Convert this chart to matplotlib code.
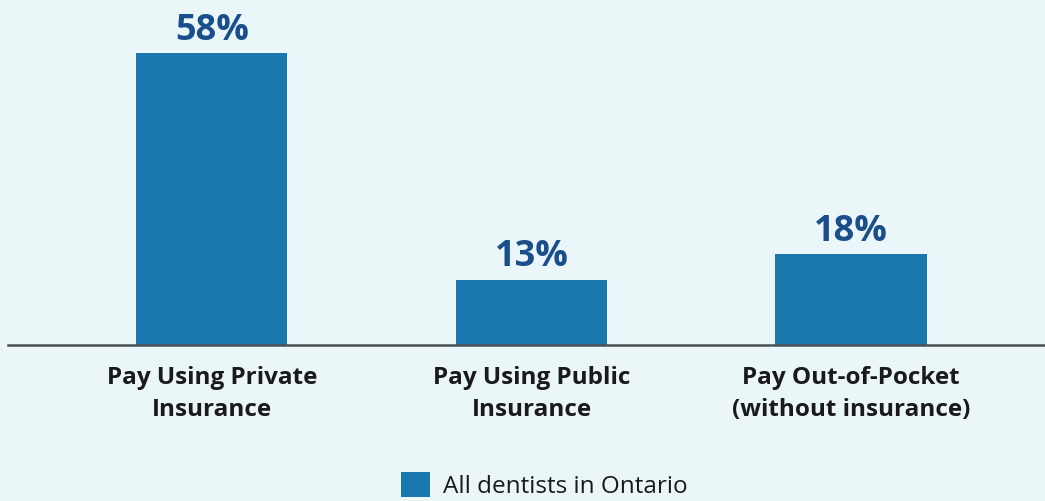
import matplotlib
matplotlib.use("Agg")
import matplotlib.pyplot as plt
from matplotlib.patches import Patch

categories = ["Pay Using Private\nInsurance", "Pay Using Public\nInsurance", "Pay Out-of-Pocket\n(without insurance)"]
values = [58, 13, 18]
value_labels = ["58%", "13%", "18%"]
series_name = "All dentists in Ontario"

BG = "#EBF6F9"
BAR = "#1A78AE"
VAL = "#1A4F8B"

plt.rcParams['font.family'] = ['Open Sans', 'DejaVu Sans']

fig = plt.figure(figsize=(10.45, 5.01), dpi=100)
fig.patch.set_facecolor(BG)
ax = fig.add_axes([8/1045, 1 - 345/501, 1037/1045, 345/501])
ax.set_facecolor(BG)

x = list(range(len(categories)))
bars = ax.bar(x, values, width=0.473, color=BAR, zorder=2)
ax.set_xlim(-0.638, 2.607)
ax.set_ylim(0, 68.6)

for b, lab in zip(bars, value_labels):
    ax.annotate(lab, (b.get_x() + b.get_width()/2, b.get_height()),
                xytext=(0, 3), textcoords="offset points",
                ha="center", va="bottom", fontsize=26, fontweight="bold", color=VAL)

ax.set_xticks(x)
ax.set_xticklabels(categories, fontsize=17.5, fontweight="bold", color="#1A1A1A", linespacing=1.48)
ax.tick_params(axis="x", length=0, pad=15)
ax.set_yticks([])
for s in ["top", "left", "right"]:
    ax.spines[s].set_visible(False)
ax.spines["bottom"].set_color("#4A5054")
ax.spines["bottom"].set_linewidth(1.8)

handle = Patch(facecolor=BAR, edgecolor="none")
fig.legend([handle], [series_name], loc="upper center",
           bbox_to_anchor=(544.5/1045, 29/501), frameon=False, fontsize=17.5,
           handlelength=1.2, handleheight=1.2, handletextpad=0.55, borderpad=0,
           borderaxespad=0, labelcolor="#1A1A1A")

fig.savefig("out.png", dpi=100, facecolor=BG)
